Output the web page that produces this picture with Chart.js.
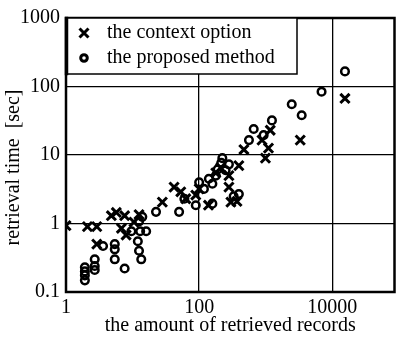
<!DOCTYPE html>
<html>
<head>
<meta charset="utf-8">
<script src="https://cdn.jsdelivr.net/npm/chart.js@4.4.3/dist/chart.umd.min.js"></script>
<style>
  html, body { margin: 0; padding: 0; background: #fff; }
  #wrap { width: 404px; height: 342px; }
</style>
</head>
<body>
<div id="wrap"><canvas id="chart" width="404" height="342"></canvas></div>
<script>
// values
const contextX = [1, 2.1, 2.9, 2.9, 4.8, 5.7, 7.6, 6.8, 8.0, 10.5, 12.5, 28, 42, 53, 63, 89, 100, 138,
    178, 210, 280, 280, 300, 370, 395, 470, 880, 990, 1100, 1170, 3300, 15500];
const contextY = [0.93, 0.9, 0.9, 0.5, 1.3, 1.45, 1.3, 0.85, 0.68, 1.05, 1.35, 2.05, 3.4, 2.9, 2.3, 2.6, 3.2, 1.85,
    5.5, 6.5, 5.0, 3.4, 2.05, 2.1, 7.0, 12, 16.5, 9, 12.6, 23, 16.5, 67];

const proposedX = [1.92, 1.92, 1.92, 1.92, 2.7, 2.7, 2.7, 3.6, 5.4, 5.4, 5.4, 7.6, 9.6, 12, 12.5, 13.5, 13, 16,
    12.5, 14, 22.5, 50, 60, 89, 100, 118, 140, 158, 158, 178, 190, 215, 223, 250, 280, 330, 395,
    560, 660, 930, 1240, 2460, 3470, 6900, 15500];
const proposedY = [0.23, 0.2, 0.175, 0.148, 0.3, 0.24, 0.21, 0.47, 0.5, 0.42, 0.3, 0.22, 0.77, 0.55, 0.4, 0.3, 0.77, 0.77,
    1.07, 1.25, 1.48, 1.48, 2.3, 1.85, 4, 3.2, 4.5, 1.95, 3.8, 5, 6.2, 7.7, 9, 6, 7.3, 2.5, 2.7,
    16.5, 24, 19.5, 32, 55, 38, 84, 166];

const xTicks = [1, 100, 10000];
const yTicks = [0.1, 1, 10, 100, 1000];

const FONT = "'Liberation Serif', 'DejaVu Serif', serif";

function toPoints(xs, ys) {
    return xs.map((x, i) => ({ x, y: ys[i] }));
}

// frame round the plot + legend box in the top left corner
const framePlugin = {
    id: "frameAndLegend",
    afterDraw(chart) {
        const ctx = chart.ctx;
        const a = chart.chartArea;

        ctx.save();
        ctx.strokeStyle = "#000";
        ctx.lineWidth = 2.5;
        ctx.strokeRect(a.left, a.top, a.right - a.left, a.bottom - a.top);

        // legend box
        const bx = a.left, by = a.top, bw = 231, bh = 56;
        ctx.fillStyle = "#fff";
        ctx.fillRect(bx, by, bw, bh);
        ctx.lineWidth = 1.5;
        ctx.strokeRect(bx, by, bw, bh);
        ctx.lineWidth = 2.5;
        ctx.strokeRect(a.left, a.top, 1, bh);

        ctx.font = "20px " + FONT;
        ctx.textBaseline = "middle";
        ctx.fillStyle = "#000";
        chart.data.datasets.forEach((ds, i) => {
            const cy = by + 15 + i * 25;
            const cx = bx + 18;
            ctx.save();
            ctx.strokeStyle = "#000";
            ctx.lineWidth = 3;
            ctx.beginPath();
            if (ds.pointStyle === "crossRot") {
                const r = 4.5;
                ctx.moveTo(cx - r, cy - r); ctx.lineTo(cx + r, cy + r);
                ctx.moveTo(cx + r, cy - r); ctx.lineTo(cx - r, cy + r);
            } else {
                ctx.arc(cx, cy, 3.3, 0, Math.PI * 2);
            }
            ctx.stroke();
            ctx.restore();
            ctx.fillText(ds.label, bx + 41, cy);
        });
        ctx.restore();
    }
};

new Chart(document.getElementById("chart"), {
    type: "scatter",
    data: {
        datasets: [
            {
                label: "the context option",
                data: toPoints(contextX, contextY),
                pointStyle: "crossRot",
                pointRadius: 6.5,
                borderColor: "#000",
                backgroundColor: "transparent",
                borderWidth: 3
            },
            {
                label: "the proposed method",
                data: toPoints(proposedX, proposedY),
                pointStyle: "circle",
                pointRadius: 3.8,
                borderColor: "#000",
                backgroundColor: "transparent",
                borderWidth: 2.5
            }
        ]
    },
    options: {
        responsive: false,
        animation: false,
        layout: { padding: { top: 12, right: 7, left: 0, bottom: 0 } },
        plugins: {
            legend: { display: false },
            tooltip: { enabled: false }
        },
        scales: {
            x: {
                type: "logarithmic",
                min: 1,
                max: 86000,
                afterBuildTicks: scale => { scale.ticks = xTicks.map(v => ({ value: v })); },
                afterFit: scale => { scale.height = 50; },
                grid: { color: "#000", lineWidth: 1.3, drawTicks: false },
                border: { display: false },
                ticks: {
                    color: "#000",
                    font: { family: FONT, size: 20 },
                    padding: 4,
                    maxRotation: 0,
                    autoSkip: false,
                    callback: v => String(v)
                },
                title: {
                    display: true,
                    text: "the amount of retrieved records",
                    color: "#000",
                    font: { family: FONT, size: 20 },
                    padding: { top: 0, bottom: 4 }
                }
            },
            y: {
                type: "logarithmic",
                min: 0.1,
                max: 1000,
                afterBuildTicks: scale => { scale.ticks = yTicks.map(v => ({ value: v })); },
                afterFit: scale => { scale.width = 66; },
                grid: { color: "#000", lineWidth: 1.3, drawTicks: false },
                border: { display: false },
                ticks: {
                    color: "#000",
                    font: { family: FONT, size: 20 },
                    padding: 6,
                    autoSkip: false,
                    callback: v => String(v)
                },
                title: {
                    display: true,
                    // trailing spaces push the centred text a little lower, as in the original
                    text: "retrieval time  [sec]     ",
                    color: "#000",
                    font: { family: FONT, size: 20 },
                    padding: { top: 2, bottom: 0 }
                }
            }
        }
    },
    plugins: [framePlugin]
});
</script>
</body>
</html>
